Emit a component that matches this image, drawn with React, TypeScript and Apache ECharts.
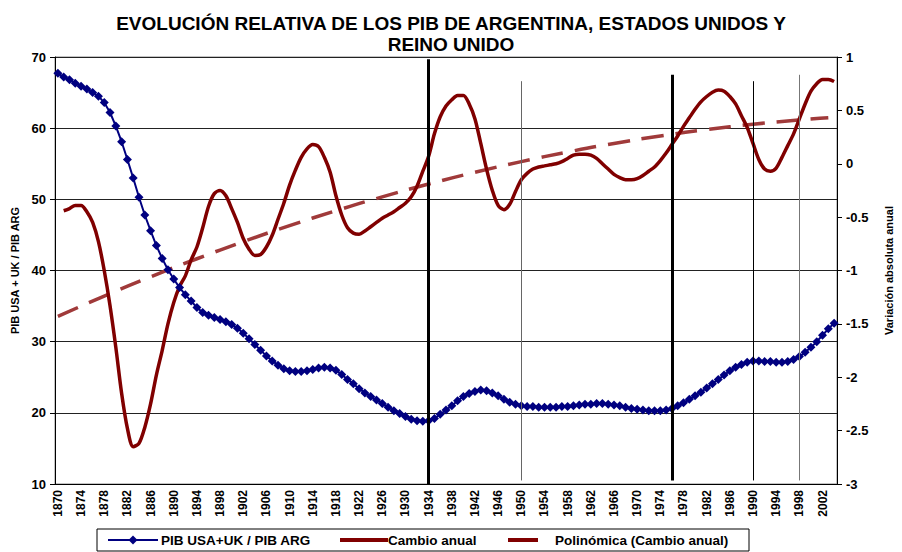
import React, { useEffect, useRef } from "react";
import * as echarts from "echarts";

const FIRST_YEAR = 1870;
const LAST_YEAR = 2004;
const years: string[] = Array.from({ length: LAST_YEAR - FIRST_YEAR + 1 }, (_, i) => String(FIRST_YEAR + i));

// PIB USA+UK / PIB ARG (left axis), 1870..2004
const ratioValues: number[] = [
  67.7, 67.2, 66.8, 66.3, 65.9, 65.5, 65.0, 64.5, 63.6, 62.2, // 1870-1879
  60.3, 58.1, 55.6, 53.0, 50.3, 47.8, 45.6, 43.5, 41.7, 40.1, // 1880-1889
  38.8, 37.6, 36.6, 35.7, 34.8, 34.1, 33.7, 33.4, 33.1, 32.8, // 1890-1899
  32.4, 31.9, 31.2, 30.4, 29.6, 28.8, 28.0, 27.3, 26.7, 26.2, // 1900-1909
  25.9, 25.8, 25.8, 25.9, 26.1, 26.3, 26.4, 26.3, 26.0, 25.4, // 1910-1919
  24.7, 24.1, 23.4, 22.8, 22.3, 21.8, 21.3, 20.8, 20.3, 19.9, // 1920-1929
  19.5, 19.1, 18.9, 18.8, 18.9, 19.2, 19.8, 20.4, 21.0, 21.7, // 1930-1939
  22.3, 22.7, 23.0, 23.2, 23.1, 22.8, 22.4, 21.9, 21.5, 21.2, // 1940-1949
  21.0, 20.9, 20.9, 20.8, 20.8, 20.8, 20.8, 20.9, 20.9, 21.0, // 1950-1959
  21.1, 21.2, 21.2, 21.3, 21.3, 21.2, 21.1, 21.0, 20.8, 20.6, // 1960-1969
  20.5, 20.4, 20.3, 20.3, 20.3, 20.4, 20.6, 21.0, 21.4, 21.9, // 1970-1979
  22.4, 22.9, 23.5, 24.1, 24.7, 25.3, 25.9, 26.4, 26.8, 27.1, // 1980-1989
  27.3, 27.3, 27.2, 27.2, 27.1, 27.1, 27.2, 27.5, 27.9, 28.5, // 1990-1999
  29.2, 30.0, 30.9, 31.8, 32.6 // 2000-2004
];

// Cambio anual (right axis), 1870..2004
const changeValues: (number | null)[] = [
  null, -0.44, -0.42, -0.39, -0.39, -0.45, -0.55, -0.73, -1.0, -1.33, // 1870-1879
  -1.72, -2.15, -2.48, -2.65, -2.62, -2.47, -2.25, -1.98, -1.75, -1.5, // 1880-1889
  -1.3, -1.15, -1.05, -0.9, -0.78, -0.6, -0.4, -0.28, -0.25, -0.3, // 1890-1899
  -0.42, -0.55, -0.7, -0.8, -0.86, -0.85, -0.78, -0.67, -0.52, -0.37, // 1900-1909
  -0.2, -0.06, 0.06, 0.14, 0.18, 0.16, 0.06, -0.08, -0.3, -0.48, // 1910-1919
  -0.6, -0.65, -0.66, -0.63, -0.59, -0.55, -0.51, -0.48, -0.45, -0.41, // 1920-1929
  -0.37, -0.31, -0.21, -0.07, 0.07, 0.28, 0.44, 0.54, 0.6, 0.64, // 1930-1939
  0.64, 0.56, 0.42, 0.19, -0.05, -0.25, -0.39, -0.43, -0.38, -0.26, // 1940-1949
  -0.15, -0.09, -0.05, -0.03, -0.02, -0.01, 0.0, 0.02, 0.05, 0.08, // 1950-1959
  0.09, 0.09, 0.08, 0.05, 0.0, -0.05, -0.1, -0.13, -0.15, -0.15, // 1960-1969
  -0.14, -0.11, -0.07, -0.03, 0.03, 0.1, 0.18, 0.26, 0.35, 0.43, // 1970-1979
  0.51, 0.58, 0.63, 0.67, 0.69, 0.68, 0.63, 0.56, 0.45, 0.34, // 1980-1989
  0.19, 0.04, -0.05, -0.07, -0.04, 0.06, 0.17, 0.28, 0.42, 0.56, // 1990-1999
  0.68, 0.75, 0.79, 0.79, 0.77 // 2000-2004
];

// Polinómica (Cambio anual): trend read at sample years
const trendYears: number[] = [1870, 1878, 1886, 1894, 1902, 1910, 1918, 1926, 1934, 1942, 1950, 1958, 1966, 1974, 1982, 1990, 1998, 2003];
const trendValues: number[] = [-1.43, -1.24, -1.06, -0.89, -0.73, -0.58, -0.44, -0.31, -0.19, -0.08, 0.02, 0.11, 0.19, 0.26, 0.32, 0.37, 0.41, 0.43];

// Vertical reference lines (year, top and bottom value on left axis, style)
const refLineYears: number[] = [1934, 1950, 1976, 1990, 1998];
const refLineTops: number[] = [69.7, 66.6, 67.5, 66.6, 67.5];
const refLineBottoms: number[] = [10, 10.5, 10.5, 10.5, 10.5];
const refLineWidths: number[] = [3, 1, 3, 1, 1];
const refLineColors: string[] = ["#000", "#666", "#000", "#000", "#777"];

const leftTicks = { min: 10, max: 70, interval: 10 };
const rightTicks = { min: -3, max: 1, interval: 0.5 };

const FONT = "'Liberation Sans', Arial, sans-serif";

export default function App() {
  const ref = useRef<HTMLDivElement>(null);
  useEffect(() => {
    if (!ref.current) return;
    const chart = echarts.init(ref.current, undefined, { renderer: "svg" });
    const trendData = trendYears.map((y, k) => [String(y), trendValues[k]]);
    const markData = refLineYears.map((y, k) => [
      { coord: [String(y), refLineTops[k]], lineStyle: { width: refLineWidths[k], color: refLineColors[k], type: "solid" } },
      { coord: [String(y), refLineBottoms[k]] },
    ]);
    const legendY = 540;
    chart.setOption({
      animation: false,
      textStyle: { fontFamily: FONT },
      title: {
        text: "EVOLUCIÓN RELATIVA DE LOS PIB DE ARGENTINA, ESTADOS UNIDOS Y\nREINO UNIDO",
        left: "center",
        top: 8,
        textStyle: { fontFamily: FONT, fontSize: 19, fontWeight: "bold", color: "#000", lineHeight: 21 },
      },
      grid: { left: 55, right: 51, top: 57, bottom: 68, show: true, borderColor: "#888", borderWidth: 1, backgroundColor: "transparent" },
      xAxis: {
        type: "category",
        data: years,
        boundaryGap: true,
        axisLine: { onZero: false, lineStyle: { color: "#000", width: 1 } },
        axisTick: { interval: 0, length: 4, lineStyle: { color: "#000" } },
        axisLabel: { interval: 3, rotate: 90, fontSize: 12, fontWeight: "bold", color: "#000", margin: 6, fontFamily: FONT },
        splitLine: { show: false },
      },
      yAxis: [
        {
          type: "value",
          ...leftTicks,
          name: "PIB USA + UK / PIB ARG",
          nameLocation: "middle",
          nameGap: 34,
          nameTextStyle: { fontSize: 11, fontWeight: "bold", color: "#000", fontFamily: FONT },
          axisLine: { show: true, lineStyle: { color: "#000" } },
          axisTick: { show: true, length: 5, lineStyle: { color: "#000" } },
          axisLabel: { fontSize: 13, fontWeight: "bold", color: "#000", margin: 9, fontFamily: FONT },
          splitLine: { show: true, lineStyle: { color: "#222", width: 1 } },
        },
        {
          type: "value",
          ...rightTicks,
          position: "right",
          name: "Variación absoluta anual",
          nameLocation: "middle",
          nameGap: 46,
          nameTextStyle: { fontSize: 11, fontWeight: "bold", color: "#000", fontFamily: FONT },
          axisLine: { show: true, lineStyle: { color: "#000" } },
          axisTick: { show: true, length: 5, lineStyle: { color: "#000" } },
          axisLabel: { fontSize: 13, fontWeight: "bold", color: "#000", margin: 9, fontFamily: FONT },
          splitLine: { show: false },
        },
      ],
      series: [
        {
          name: "Polinómica (Cambio anual)",
          type: "line",
          yAxisIndex: 1,
          data: trendData,
          smooth: true,
          symbol: "none",
          lineStyle: { color: "#a03a3a", width: 3.5, type: [22, 12] },
          z: 2,
        },
        {
          name: "Cambio anual",
          type: "line",
          yAxisIndex: 1,
          data: changeValues,
          smooth: 0.3,
          symbol: "none",
          lineStyle: { color: "#800000", width: 3.5 },
          z: 3,
        },
        {
          name: "PIB USA+UK / PIB ARG",
          type: "line",
          yAxisIndex: 0,
          data: ratioValues,
          symbol: "diamond",
          symbolSize: 9,
          showAllSymbol: true,
          itemStyle: { color: "#000080" },
          lineStyle: { color: "#000080", width: 2 },
          z: 4,
          markLine: {
            silent: true,
            symbol: ["none", "none"],
            label: { show: false },
            data: markData,
          },
        },
      ],
      graphic: [
        { type: "rect", shape: { x: 97, y: 529, width: 652, height: 22 }, style: { fill: "#fff", stroke: "#000", lineWidth: 1 } },
        { type: "line", shape: { x1: 108, y1: legendY, x2: 158, y2: legendY }, style: { stroke: "#000080", lineWidth: 2 } },
        { type: "polygon", shape: { points: [[133, legendY - 4.5], [137.5, legendY], [133, legendY + 4.5], [128.5, legendY]] }, style: { fill: "#000080" } },
        { type: "text", x: 161, y: legendY, style: { text: "PIB USA+UK / PIB ARG", font: `bold 13.5px ${FONT}`, fill: "#000", verticalAlign: "middle" } },
        { type: "rect", shape: { x: 340, y: legendY - 2, width: 48, height: 4 }, style: { fill: "#800000" } },
        { type: "text", x: 388, y: legendY, style: { text: "Cambio anual", font: `bold 13.5px ${FONT}`, fill: "#000", verticalAlign: "middle" } },
        { type: "rect", shape: { x: 508, y: legendY - 2, width: 30, height: 4 }, style: { fill: "#800000" } },
        { type: "text", x: 555, y: legendY, style: { text: "Polinómica (Cambio anual)", font: `bold 13.5px ${FONT}`, fill: "#000", verticalAlign: "middle" } },
      ],
    });
    return () => chart.dispose();
  }, []);
  return <div ref={ref} style={{ width: 902, height: 552, position: "absolute", left: 0, top: 0, background: "#fff" }} />;
}
